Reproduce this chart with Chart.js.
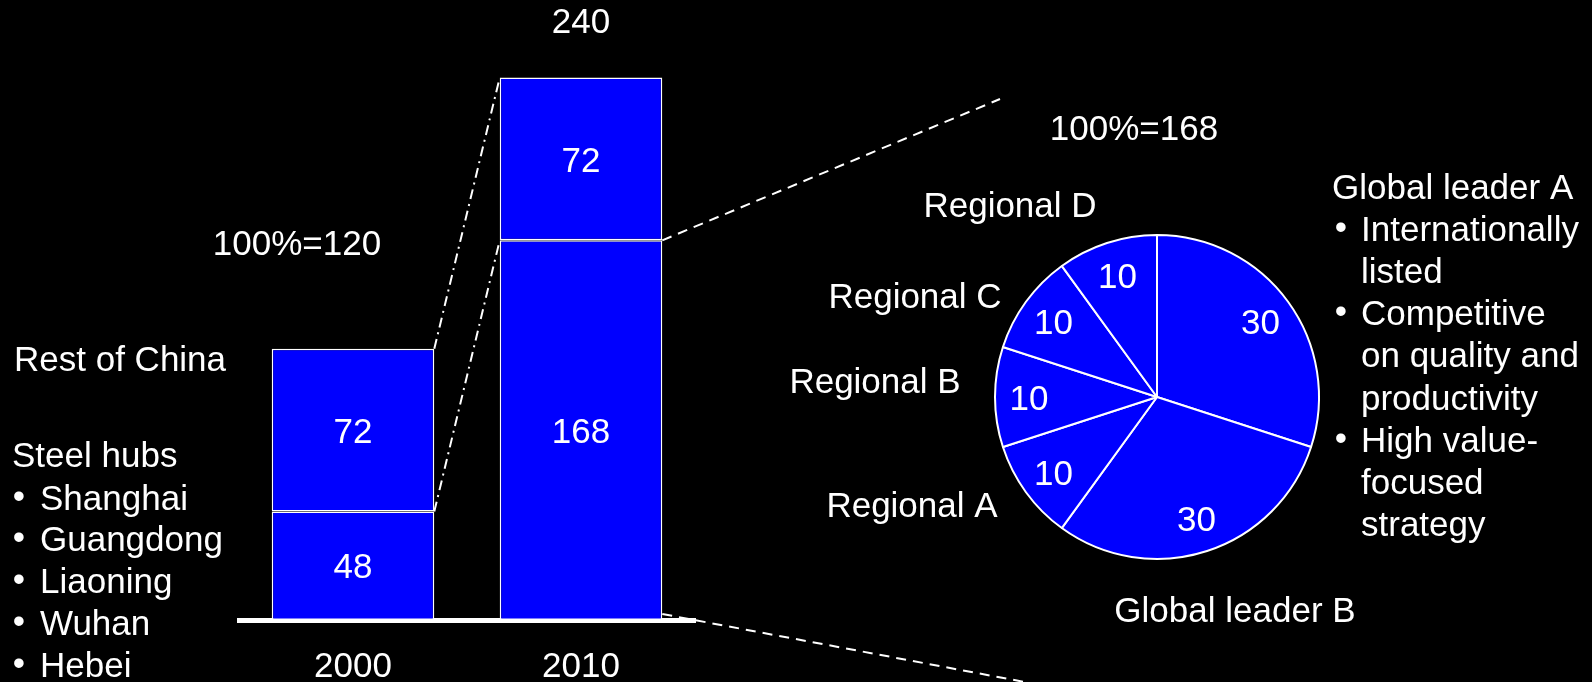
<!DOCTYPE html>
<html>
<head>
<meta charset="utf-8">
<script src="https://cdn.jsdelivr.net/npm/chart.js@4.4.0/dist/chart.umd.min.js"></script>
<style>
  html, body { margin: 0; padding: 0; background: #000; }
  #wrap { position: relative; width: 1592px; height: 682px; overflow: hidden; }
  #wrap canvas { position: absolute; left: 0; top: 0; }
</style>
</head>
<body>
<div id="wrap">
  <canvas id="barChart" width="1592" height="682"></canvas>
  <canvas id="pieChart" width="1592" height="682"></canvas>
</div>
<script>
// market size by year, split into steel hubs (bottom) and rest of China (top)
const years = ["2000", "2010"];
const steelHubs = [48, 168];
const restOfChina = [72, 72];
const totals = [120, 240];

// breakdown of the 2010 steel hub volume, in percent
const shareLabels = ["Global leader A", "Global leader B", "Regional A", "Regional B", "Regional C", "Regional D"];
const shareValues = [30, 30, 10, 10, 10, 10];
const shareBase = 168;

const hubNames = ["Shanghai", "Guangdong", "Liaoning", "Wuhan", "Hebei"];
const leaderNotes = [
  ["Internationally", "listed"],
  ["Competitive", "on quality and", "productivity"],
  ["High value-", "focused", "strategy"]
];

const BLUE = "#0000ff";
const FAMILY = "'Liberation Sans', Arial, sans-serif";
const FONT = "35px " + FAMILY;

Chart.defaults.animation = false;
Chart.defaults.color = "#fff";

// middle baseline sits a little high for this font, nudge it down
function text(ctx, str, x, y, align) {
  ctx.textAlign = align || "center";
  ctx.fillText(str, x, y + 3);
}

const barStyle = {
  backgroundColor: BLUE,
  borderColor: "#fff",
  borderWidth: 1.5,
  borderSkipped: false,
  categoryPercentage: 1,
  barPercentage: 0.713
};

// labels, notes and dashed connectors around the bars
const barDecor = {
  id: "barDecor",
  afterDatasetsDraw(chart) {
    const ctx = chart.ctx;
    const hubs = chart.getDatasetMeta(0).data;
    const rest = chart.getDatasetMeta(1).data;
    ctx.save();
    ctx.fillStyle = "#fff";
    ctx.font = FONT;
    ctx.textBaseline = "middle";

    // segment values
    [hubs, rest].forEach((bars, d) => {
      bars.forEach((bar, i) => {
        const p = bar.getCenterPoint();
        text(ctx, chart.data.datasets[d].data[i], p.x, p.y);
      });
    });

    // totals
    text(ctx, "100%=" + totals[0], 297, 242);
    text(ctx, String(totals[1]), rest[1].x, 20);

    // left notes
    text(ctx, "Rest of China", 14, 358, "left");
    text(ctx, "Steel hubs", 12, 454, "left");
    hubNames.forEach((name, i) => {
      const y = 497 + i * 41.8;
      text(ctx, "\u2022", 19, y - 2);
      text(ctx, name, 40, y, "left");
    });

    // connectors
    const half = hubs[0].width / 2;
    ctx.strokeStyle = "#fff";
    ctx.lineWidth = 2;
    ctx.setLineDash([10, 5, 2, 5]);
    ctx.beginPath();
    ctx.moveTo(rest[0].x + half, rest[0].y);
    ctx.lineTo(rest[1].x - half, rest[1].y);
    ctx.moveTo(hubs[0].x + half, hubs[0].y);
    ctx.lineTo(hubs[1].x - half, hubs[1].y);
    ctx.stroke();

    ctx.setLineDash([10, 7]);
    ctx.beginPath();
    ctx.moveTo(hubs[1].x + half, hubs[1].y);
    ctx.lineTo(1000, 99);
    ctx.moveTo(hubs[1].x + half, hubs[1].base - 6);
    ctx.lineTo(1030, 683);
    ctx.stroke();
    ctx.restore();
  }
};

new Chart(document.getElementById("barChart"), {
  type: "bar",
  data: {
    labels: years,
    datasets: [
      Object.assign({ label: "Steel hubs", data: steelHubs }, barStyle),
      Object.assign({ label: "Rest of China", data: restOfChina }, barStyle)
    ]
  },
  options: {
    responsive: false,
    layout: { padding: { left: 239, right: 897, top: 55, bottom: 0 } },
    plugins: { legend: { display: false }, tooltip: { enabled: false } },
    scales: {
      x: {
        stacked: true,
        grid: { display: false, drawTicks: false },
        border: { display: true, color: "#fff", width: 5 },
        ticks: { color: "#fff", font: { family: FAMILY, size: 35 }, padding: 26 },
        afterFit(axis) { axis.height = 62; }
      },
      y: { stacked: true, display: false, min: 0, max: 250 }
    }
  },
  plugins: [barDecor]
});

// slice values and labels around the pie
const pieDecor = {
  id: "pieDecor",
  afterDatasetsDraw(chart) {
    const ctx = chart.ctx;
    const arcs = chart.getDatasetMeta(0).data;
    ctx.save();
    ctx.fillStyle = "#fff";
    ctx.font = FONT;
    ctx.textBaseline = "middle";

    arcs.forEach((arc, i) => {
      const mid = (arc.startAngle + arc.endAngle) / 2;
      const r = arc.outerRadius * 0.79;
      text(ctx, shareValues[i], arc.x + Math.cos(mid) * r, arc.y + Math.sin(mid) * r);
    });

    text(ctx, "100%=" + shareBase, 1134, 127);
    text(ctx, shareLabels[5], 1010, 204);
    text(ctx, shareLabels[4], 915, 295);
    text(ctx, shareLabels[3], 875, 380);
    text(ctx, shareLabels[2], 912, 504);
    text(ctx, shareLabels[1], 1235, 609);

    text(ctx, shareLabels[0], 1332, 186, "left");
    let y = 228.5;
    leaderNotes.forEach(lines => {
      text(ctx, "\u2022", 1341, y - 2);
      lines.forEach(line => {
        text(ctx, line, 1361, y, "left");
        y += 42.1;
      });
    });
    ctx.restore();
  }
};

new Chart(document.getElementById("pieChart"), {
  type: "pie",
  data: {
    labels: shareLabels,
    datasets: [{
      data: shareValues,
      backgroundColor: BLUE,
      borderColor: "#fff",
      borderWidth: 2
    }]
  },
  options: {
    responsive: false,
    layout: { padding: { left: 994, right: 272, top: 234, bottom: 122 } },
    plugins: { legend: { display: false }, tooltip: { enabled: false } }
  },
  plugins: [pieDecor]
});
</script>
</body>
</html>
